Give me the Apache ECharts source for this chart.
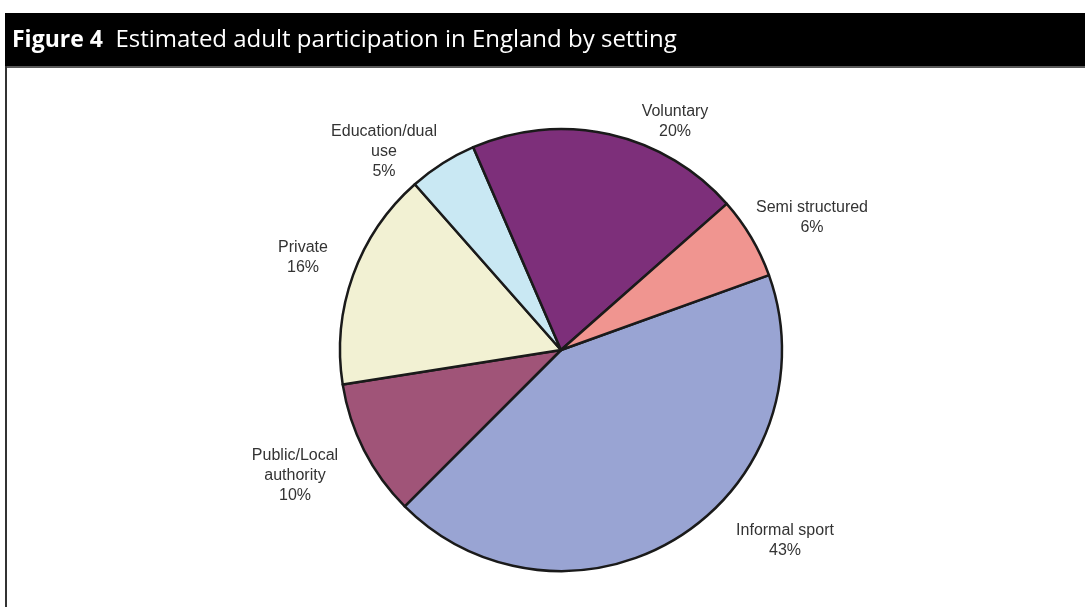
<!DOCTYPE html>
<html>
<head>
<meta charset="utf-8">
<script src="https://cdn.jsdelivr.net/npm/echarts@6/dist/echarts.min.js"></script>
<style>
  html, body { margin: 0; padding: 0; background: #fff; }
  #chart { width: 1085px; height: 607px; }
</style>
</head>
<body>
<div id="chart"></div>
<script>
// 数据
var settings = ['Informal sport', 'Public/Local\nauthority', 'Private', 'Education/dual\nuse', 'Voluntary', 'Semi structured'];
var shares = [43, 10, 16, 5, 20, 6];
var sliceColors = ['#99a4d3', '#a05478', '#f2f1d3', '#c9e8f3', '#7d2f7a', '#f09590'];

// label anchor (centre of text block), pixels
var labelAnchors = [[785, 541], [295, 476], [303, 258], [384, 152], [675, 122], [812, 218]];

var pieData = [];
for (var i = 0; i < settings.length; i++) {
    pieData.push({ name: settings[i], value: shares[i], itemStyle: { color: sliceColors[i] } });
}

var option = {
    animation: false,
    title: {
        text: '{b|Figure 4}  Estimated adult participation in England by setting',
        left: 7,
        top: 23,
        textStyle: {
            color: '#fff',
            fontFamily: 'Open Sans',
            fontSize: 24,
            fontWeight: 'normal',
            rich: {
                b: { color: '#fff', fontFamily: 'Open Sans', fontSize: 23, fontWeight: 'bold' }
            }
        }
    },
    graphic: [
        { type: 'rect', shape: { x: 5, y: 13, width: 1080, height: 53 }, style: { fill: '#000' } },
        { type: 'rect', shape: { x: 5, y: 66, width: 1080, height: 2 }, style: { fill: '#5a5a5a' } },
        { type: 'rect', shape: { x: 5, y: 66, width: 2, height: 541 }, style: { fill: '#333' } }
    ],
    series: [
        {
            name: 'Setting',
            type: 'pie',
            center: [561, 350],
            radius: 221,
            startAngle: 19.8,
            clockwise: true,
            avoidLabelOverlap: false,
            data: pieData,
            itemStyle: { borderColor: '#1a1a1a', borderWidth: 2.5 },
            emphasis: { disabled: true },
            label: {
                show: true,
                position: 'outside',
                formatter: '{b}\n{c}%',
                color: '#333',
                fontFamily: 'Liberation Sans',
                fontSize: 16,
                lineHeight: 20,
                align: 'center'
            },
            labelLine: { show: false },
            labelLayout: function (params) {
                var p = labelAnchors[params.dataIndex];
                return { x: p[0], y: p[1], align: 'center', verticalAlign: 'middle' };
            }
        }
    ]
};

var chart = echarts.init(document.getElementById('chart'));
chart.setOption(option);
</script>
</body>
</html>
